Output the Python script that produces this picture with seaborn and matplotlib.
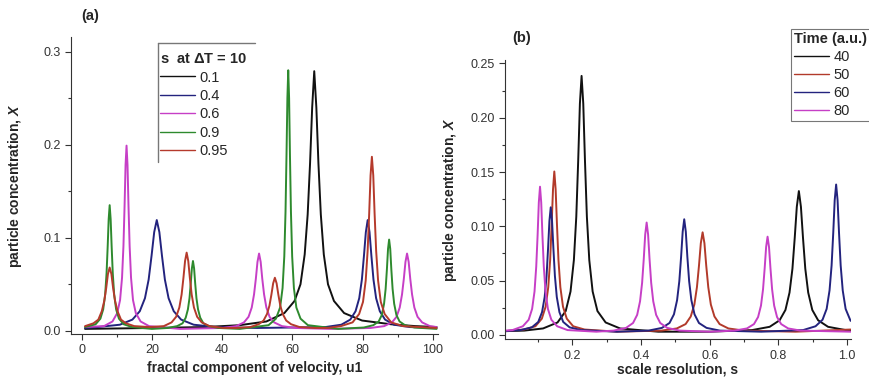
import pandas as pd
import seaborn as sns
import matplotlib.pyplot as plt
from matplotlib.lines import Line2D
from matplotlib.ticker import MultipleLocator

# ---- panel (a): concentration vs fractal velocity component, per s ----
a_labels = ["0.1", "0.4", "0.6", "0.9", "0.95"]
a_colors = ["#111111", "#23237e", "#c63fc6", "#2e8a2e", "#b53a2c"]

a_x_01 = [1, 20, 35, 45, 52.6, 57.7, 60.59, 62.29, 63.48, 64.33, 65.01, 65.61, 66.2, 66.8,
          67.39, 68.07, 68.92, 70.11, 71.81, 74.7, 79.8, 88, 95, 101]
a_y_01 = [.002, .003, .004, .006, .010, .019, .032, .050, .082, .125, .180, .240, .279, .240,
          .180, .125, .082, .050, .032, .019, .011, .007, .005, .004]

a_x_04 = [1, 4.6, 10.9, 14.47, 16.57, 18.04, 19.09, 19.93, 20.67, 21.4, 22.14, 22.87, 23.71,
          24.76, 26.23, 28.33, 31.9, 38.2, 50, 69.4, 73.9, 76.45, 77.95, 79.0, 79.75, 80.35,
          80.88, 81.4, 81.93, 82.45, 83.05, 83.8, 84.85, 86.35, 88.9, 93.4, 101]
a_y_04 = [.003, .004, .0065, .012, .021, .035, .055, .081, .106, .119, .106, .081, .055, .035,
          .021, .012, .0065, .004, .003, .004, .0065, .012, .021, .035, .055, .081, .106, .119,
          .106, .081, .055, .035, .021, .012, .0065, .004, .003]

a_x_06 = [1, 6.4, 8.8, 10.16, 10.96, 11.52, 11.92, 12.24, 12.52, 12.8, 13.08, 13.36, 13.68,
          14.08, 14.64, 15.44, 16.8, 19.2, 28, 40.1, 44.0, 46.21, 47.51, 48.42, 49.07, 49.59,
          50.05, 50.5, 50.96, 51.41, 51.93, 52.58, 53.49, 54.79, 57.0, 60.9, 71, 82.2, 86.1,
          88.31, 89.61, 90.52, 91.17, 91.69, 92.15, 92.6, 93.06, 93.51, 94.03, 94.68, 95.59,
          96.89, 99.1, 101]
a_y_06 = [.004, .005, .010, .019, .033, .057, .091, .134, .178, .199, .178, .134, .091, .057,
          .033, .019, .010, .005, .002, .003, .005, .009, .015, .025, .039, .056, .074, .083,
          .074, .056, .039, .025, .015, .009, .005, .003, .002, .003, .005, .009, .015, .025,
          .039, .056, .074, .083, .074, .056, .039, .025, .015, .009, .005, .004]

a_x_09 = [1, 4.0, 5.36, 6.16, 6.72, 7.12, 7.44, 7.72, 8.0, 8.28, 8.56, 8.88, 9.28, 9.84,
          10.64, 12.0, 14.4, 20, 24.5, 27.2, 28.73, 29.63, 30.26, 30.71, 31.07, 31.39, 31.7,
          32.02, 32.33, 32.69, 33.14, 33.77, 34.67, 36.2, 38.9, 45, 53.2, 55.3, 56.49, 57.19,
          57.68, 58.03, 58.31, 58.56, 58.8, 59.05, 59.29, 59.57, 59.92, 60.41, 61.11, 62.3,
          64.4, 73, 80.3, 83.0, 84.53, 85.43, 86.06, 86.51, 86.87, 87.19, 87.5, 87.82, 88.13,
          88.49, 88.94, 89.57, 90.47, 92.0, 94.7, 101]
a_y_09 = [.004, .007, .013, .023, .039, .062, .091, .120, .135, .120, .091, .062, .039, .023,
          .013, .007, .004, .002, .003, .005, .008, .014, .023, .035, .051, .067, .075, .067,
          .051, .035, .023, .014, .008, .005, .003, .002, .006, .013, .025, .046, .080, .128,
          .189, .250, .280, .250, .189, .128, .080, .046, .025, .013, .006, .002, .0035, .006,
          .010, .017, .029, .045, .066, .088, .098, .088, .066, .045, .029, .017, .010, .006,
          .0035, .002]

a_x_095 = [1, 3.38, 4.78, 5.76, 6.46, 7.02, 7.51, 8.0, 8.49, 8.98, 9.54, 10.24, 11.22, 12.62,
           15.0, 19.3, 23.4, 25.61, 26.91, 27.82, 28.47, 28.99, 29.45, 29.9, 30.36, 30.81,
           31.33, 31.98, 32.89, 34.19, 36.4, 40.3, 43.8, 48.0, 50.38, 51.78, 52.76, 53.46,
           54.02, 54.51, 55.0, 55.49, 55.98, 56.54, 57.24, 58.22, 59.62, 62.0, 66.2, 70, 73.8,
           77.1, 78.97, 80.07, 80.84, 81.39, 81.83, 82.22, 82.6, 82.99, 83.37, 83.81, 84.36,
           85.13, 86.23, 88.1, 91.4, 101]
a_y_095 = [.005, .008, .012, .021, .032, .046, .061, .068, .061, .046, .032, .021, .012, .008,
           .005, .004, .005, .009, .015, .025, .039, .057, .075, .084, .075, .057, .039, .025,
           .015, .009, .005, .003, .003, .004, .007, .011, .018, .027, .039, .051, .057, .051,
           .039, .027, .018, .011, .007, .004, .003, .003, .005, .009, .018, .031, .054, .086,
           .126, .167, .187, .167, .126, .086, .054, .031, .018, .009, .005, .003]

# ---- panel (b): concentration vs scale resolution, per time ----
b_labels = ["40", "50", "60", "80"]
b_colors = ["#111111", "#b23a2a", "#23237e", "#c63fc6"]

b_x_40 = [.004, .06, .115, .157, .1808, .1948, .2046, .2116, .2172, .2221, .227, .2319, .2368,
          .2424, .2494, .2592, .2732, .297, .339, .45, .6, .7235, .7745, .8034, .8204, .8323,
          .8408, .8476, .8535, .8595, .8655, .8714, .8782, .8867, .8986, .9156, .9445, .9955,
          1.01]
b_y_40 = [.0035, .004, .006, .0115, .022, .040, .069, .109, .161, .213, .2385, .213, .161,
          .109, .069, .040, .022, .0115, .006, .003, .003, .0045, .0075, .0135, .023, .039,
          .061, .090, .118, .1325, .118, .090, .061, .039, .023, .0135, .0075, .0045, .004]

b_x_50 = [.004, .0596, .0926, .1113, .1223, .13, .1355, .1399, .1438, .1476, .1515, .1553,
          .1597, .1652, .1729, .1839, .2026, .2356, .33, .4593, .5043, .5298, .5448, .5553,
          .5628, .5688, .5741, .5793, .5846, .5898, .5958, .6033, .6138, .6288, .6543, .6993,
          .85, 1.01]
b_y_50 = [.0035, .005, .008, .015, .026, .044, .069, .102, .134, .1505, .134, .102, .069, .044,
          .026, .015, .008, .005, .003, .004, .006, .010, .017, .028, .044, .064, .0845, .0945,
          .0845, .064, .044, .028, .017, .010, .006, .004, .003, .005]

b_x_60 = [.004, .0492, .0822, .1009, .1119, .1196, .1251, .1295, .1334, .1372, .141, .1449,
          .1493, .1548, .1625, .1735, .1922, .2252, .33, .4218, .4608, .4829, .4959, .505,
          .5115, .5167, .5213, .5258, .5304, .5349, .5401, .5466, .5557, .5687, .5908, .6298,
          .75, .872, .908, .9284, .9404, .9488, .9548, .9596, .9638, .968, .9722, .9764,
          .9812, .9872, .9956, 1.01]
b_y_60 = [.0035, .0045, .007, .012, .021, .035, .0545, .080, .105, .1175, .105, .080, .0545,
          .035, .021, .012, .007, .0045, .003, .004, .0065, .011, .019, .032, .0495, .072,
          .095, .1065, .095, .072, .0495, .032, .019, .011, .0065, .004, .003, .0045, .008,
          .014, .024, .041, .064, .094, .124, .1385, .124, .094, .064, .041, .024, .013]

b_x_80 = [.004, .026, .056, .073, .083, .09, .095, .099, .1025, .106, .1095, .113, .117, .122,
          .129, .139, .156, .186, .27, .3204, .3564, .3768, .3888, .3972, .4032, .408, .4122,
          .4164, .4206, .4248, .4296, .4356, .444, .456, .4764, .5124, .6, .6724, .7084,
          .7288, .7408, .7492, .7552, .76, .7642, .7684, .7726, .7768, .7816, .7876, .796,
          .808, .8284, .8644, 1.01]
b_y_80 = [.004, .0045, .008, .014, .024, .040, .063, .092, .122, .1365, .122, .092, .063, .040,
          .024, .014, .008, .0045, .003, .004, .0065, .011, .0185, .031, .048, .070, .0925,
          .1035, .0925, .070, .048, .031, .0185, .011, .0065, .004, .003, .004, .006, .010,
          .0165, .027, .042, .0615, .081, .0905, .081, .0615, .042, .027, .0165, .010, .006,
          .004, .003]


def long_table(xs, ys, labels, name):
    parts = [pd.DataFrame({"x": x, "y": y, name: lab}) for x, y, lab in zip(xs, ys, labels)]
    return pd.concat(parts, ignore_index=True)


df_a = long_table([a_x_01, a_x_04, a_x_06, a_x_09, a_x_095],
                  [a_y_01, a_y_04, a_y_06, a_y_09, a_y_095], a_labels, "s")
df_b = long_table([b_x_40, b_x_50, b_x_60, b_x_80],
                  [b_y_40, b_y_50, b_y_60, b_y_80], b_labels, "t")

sns.set_style("ticks")
plt.rcParams["font.family"] = ["Liberation Sans", "DejaVu Sans"]
plt.rcParams["mathtext.fontset"] = "custom"
plt.rcParams["mathtext.it"] = "Liberation Sans:italic:bold"
plt.rcParams["mathtext.rm"] = "Liberation Sans:bold"

fig = plt.figure(figsize=(8.69, 3.77), dpi=100)
ax1 = fig.add_axes([0.0817, 0.114, 0.4223, 0.788])
ax2 = fig.add_axes([0.5811, 0.100, 0.3980, 0.741])

sns.lineplot(data=df_a, x="x", y="y", hue="s", palette=a_colors, estimator=None,
             sort=False, lw=1.4, ax=ax1, legend=False)
sns.lineplot(data=df_b, x="x", y="y", hue="t", palette=b_colors, estimator=None,
             sort=False, lw=1.4, ax=ax2, legend=False)

ax1.set_xlim(-3.0, 101.4)
ax1.set_ylim(-0.0035, 0.3158)
ax1.xaxis.set_major_locator(MultipleLocator(20))
ax1.xaxis.set_minor_locator(MultipleLocator(10))
ax1.yaxis.set_major_locator(MultipleLocator(0.1))
ax1.yaxis.set_minor_locator(MultipleLocator(0.05))

ax2.set_xlim(0.004, 1.0108)
ax2.set_ylim(-0.004, 0.2532)
ax2.xaxis.set_major_locator(MultipleLocator(0.2))
ax2.xaxis.set_minor_locator(MultipleLocator(0.1))
ax2.yaxis.set_major_locator(MultipleLocator(0.05))
ax2.yaxis.set_minor_locator(MultipleLocator(0.025))
ax2.yaxis.set_major_formatter(plt.FormatStrFormatter("%.2f"))

for ax in (ax1, ax2):
    sns.despine(ax=ax)
    ax.spines["left"].set_color("#333333")
    ax.spines["bottom"].set_color("#333333")
    ax.tick_params(which="major", direction="out", length=4, width=0.8, colors="#333333",
                   labelsize=9, labelcolor="#333333")
    ax.tick_params(which="minor", direction="out", length=2.5, width=0.8, colors="#333333")

ax1.set_xlabel("fractal component of velocity, u1", fontsize=10, fontweight="bold", labelpad=3)
ax1.set_ylabel("particle concentration, $\\mathit{X}$", fontsize=10, fontweight="bold",
               labelpad=14)
ax2.set_xlabel("scale resolution, s", fontsize=10, fontweight="bold", labelpad=0.5)
ax2.set_ylabel("particle concentration, $\\mathit{X}$", fontsize=10, fontweight="bold",
               labelpad=8)

fig.text(90 / 869, 1 - 16 / 377, "(a)", fontsize=10.5, fontweight="bold", ha="center",
         va="center")
fig.text(522 / 869, 1 - 38 / 377, "(b)", fontsize=10.5, fontweight="bold", ha="center",
         va="center")

# legend (a): only a top and a left border
h_a = [Line2D([], [], color=c, lw=1) for c in a_colors]
leg_a = ax1.legend(h_a, a_labels, title="s  at $\\Delta$T = 10", loc="upper left",
                   bbox_to_anchor=(158 / 869, 1 - 50 / 377), bbox_transform=fig.transFigure,
                   frameon=False, fontsize=10.5, title_fontsize=10.5, handlelength=2.4,
                   handletextpad=0.3, labelspacing=0.3, borderpad=0.15, borderaxespad=0)
leg_a.get_title().set_fontweight("bold")
leg_a._legend_box.align = "left"
fig.add_artist(Line2D([158 / 869, 158 / 869], [1 - 43 / 377, 1 - 162 / 377],
                      color="#777777", lw=1))
fig.add_artist(Line2D([158 / 869, 255 / 869], [1 - 43 / 377, 1 - 43 / 377],
                      color="#777777", lw=1))

# legend (b): full box
h_b = [Line2D([], [], color=c, lw=1) for c in b_colors]
leg_b = ax2.legend(h_b, b_labels, title="Time (a.u.)", loc="upper left",
                   bbox_to_anchor=(791 / 869, 1 - 29 / 377), bbox_transform=fig.transFigure,
                   frameon=True, fancybox=False, fontsize=10.5, title_fontsize=10.5,
                   handlelength=2.4, handletextpad=0.3, labelspacing=0.27, borderpad=0.2,
                   borderaxespad=0)
leg_b.get_title().set_fontweight("bold")
leg_b._legend_box.align = "left"
leg_b.get_frame().set_edgecolor("#555555")
leg_b.get_frame().set_linewidth(0.8)

fig.savefig("out.png", dpi=100)
